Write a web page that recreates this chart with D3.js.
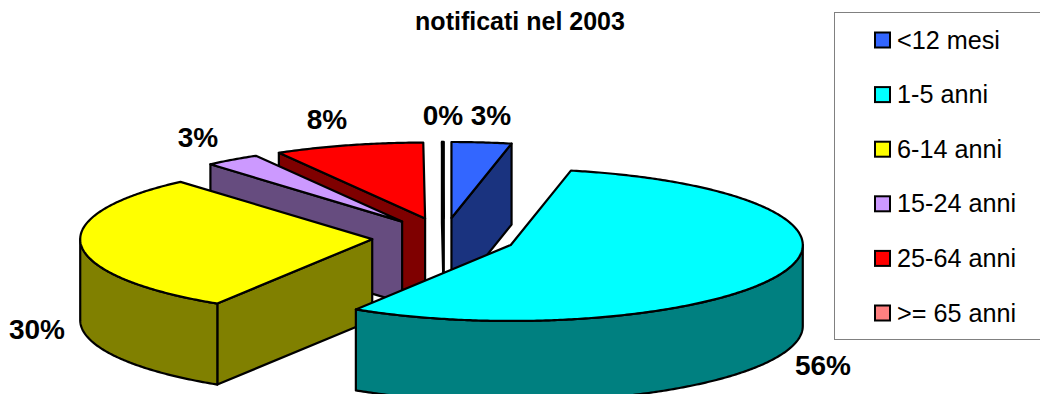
<!DOCTYPE html>
<html><head><meta charset="utf-8">
<script src="https://cdn.jsdelivr.net/npm/d3@7"></script>
<style>html,body{margin:0;padding:0;background:#fff;overflow:hidden}svg{display:block}text{font-family:"Liberation Sans",Arial,sans-serif;fill:#000}</style>
</head><body><svg id="c" width="1040" height="394"></svg>
<script>
const categories=["<12 mesi","1-5 anni","6-14 anni","15-24 anni","25-64 anni",">= 65 anni"];
const values=[3.3,55.6,29.7,3.05,8.25,0.1];
const percentLabels=["3%","56%","30%","3%","8%","0%"];
const topColors=["#3366FF","#00FFFF","#FFFF00","#CC99FF","#FF0000","#FF8080"];
const sideColors=["#1A337F","#008080","#808000","#664C7F","#7F0000","#7F4040"];
const titleText="notificati nel 2003";

const svg=d3.select("#c");
const G={cx:444,cy:237.6,rx:292,ry:76,ex:72,ey:19.7,depth:81};
const labelPos=[[491,125],[823,375],[37,339],[198,147],[327,129],[443,125]];
const pie=d3.pie().sort(null).value(d=>d)(values);
const slices=pie.map((p,i)=>{
  const mid=(p.startAngle+p.endAngle)/2;
  return {i,a0:p.startAngle,a1:p.endAngle,mid,
    ox:G.cx+G.ex*Math.sin(mid),oy:G.cy-G.ey*Math.cos(mid)};
});
const pt=(s,a)=>[s.ox+G.rx*Math.sin(a),s.oy-G.ry*Math.cos(a)];
const down=p=>[p[0],p[1]+G.depth];
const line=d3.line().curve(d3.curveLinear);
const arcPts=(s,a,b)=>{const n=Math.max(2,Math.ceil((b-a)/0.01));return d3.range(n+1).map(k=>pt(s,a+(b-a)*k/n));};
const style=(sel,fill)=>sel.attr("fill",fill).attr("stroke","#000").attr("stroke-width",2.2).attr("stroke-linejoin","round");
const plot=svg.append("g");
// back to front
slices.slice().sort((a,b)=>(-Math.cos(a.mid))-(-Math.cos(b.mid))).forEach(s=>{
  const g=plot.append("g");
  const o=[s.ox,s.oy],side=sideColors[s.i];
  const wall=a=>{const e=pt(s,a);style(g.append("path").attr("d",line([o,e,down(e),down(o)])+"Z"),side);};
  if(-Math.cos(s.a0-Math.PI/2)>0.001) wall(s.a0);
  if(-Math.cos(s.a1+Math.PI/2)>0.001) wall(s.a1);
  const lo=Math.max(s.a0,Math.PI/2),hi=Math.min(s.a1,3*Math.PI/2);
  if(hi>lo){const top=arcPts(s,lo,hi);
    style(g.append("path").attr("d",line(top.concat(top.map(down).reverse()))+"Z"),side);}
  style(g.append("path").attr("d",line([o].concat(arcPts(s,s.a0,s.a1)))+"Z"),topColors[s.i]);
});
// labels
svg.append("g").selectAll("text").data(percentLabels).join("text")
  .attr("x",(d,i)=>labelPos[i][0]).attr("y",(d,i)=>labelPos[i][1])
  .attr("text-anchor","middle").attr("font-weight","bold").attr("font-size",28).text(d=>d);
// title
svg.append("text").attr("x",520).attr("y",30).attr("text-anchor","middle").attr("font-weight","bold").attr("font-size",25).text(titleText);
// legend
svg.append("rect").attr("x",834.5).attr("y",12.5).attr("width",240).attr("height",327).attr("fill","#fff").attr("stroke","#808080").attr("stroke-width",1);
const ly=d3.scalePoint().domain(categories).range([40,313]);
const lg=svg.append("g").selectAll("g").data(categories).join("g").attr("transform",d=>`translate(0,${ly(d)})`);
lg.append("rect").attr("x",875).attr("y",-7.5).attr("width",15).attr("height",15).attr("fill",(d,i)=>topColors[i]).attr("stroke","#000").attr("stroke-width",2);
lg.append("text").attr("x",897).attr("y",8.5).attr("font-size",25.2).text(d=>d);
</script></body></html>
